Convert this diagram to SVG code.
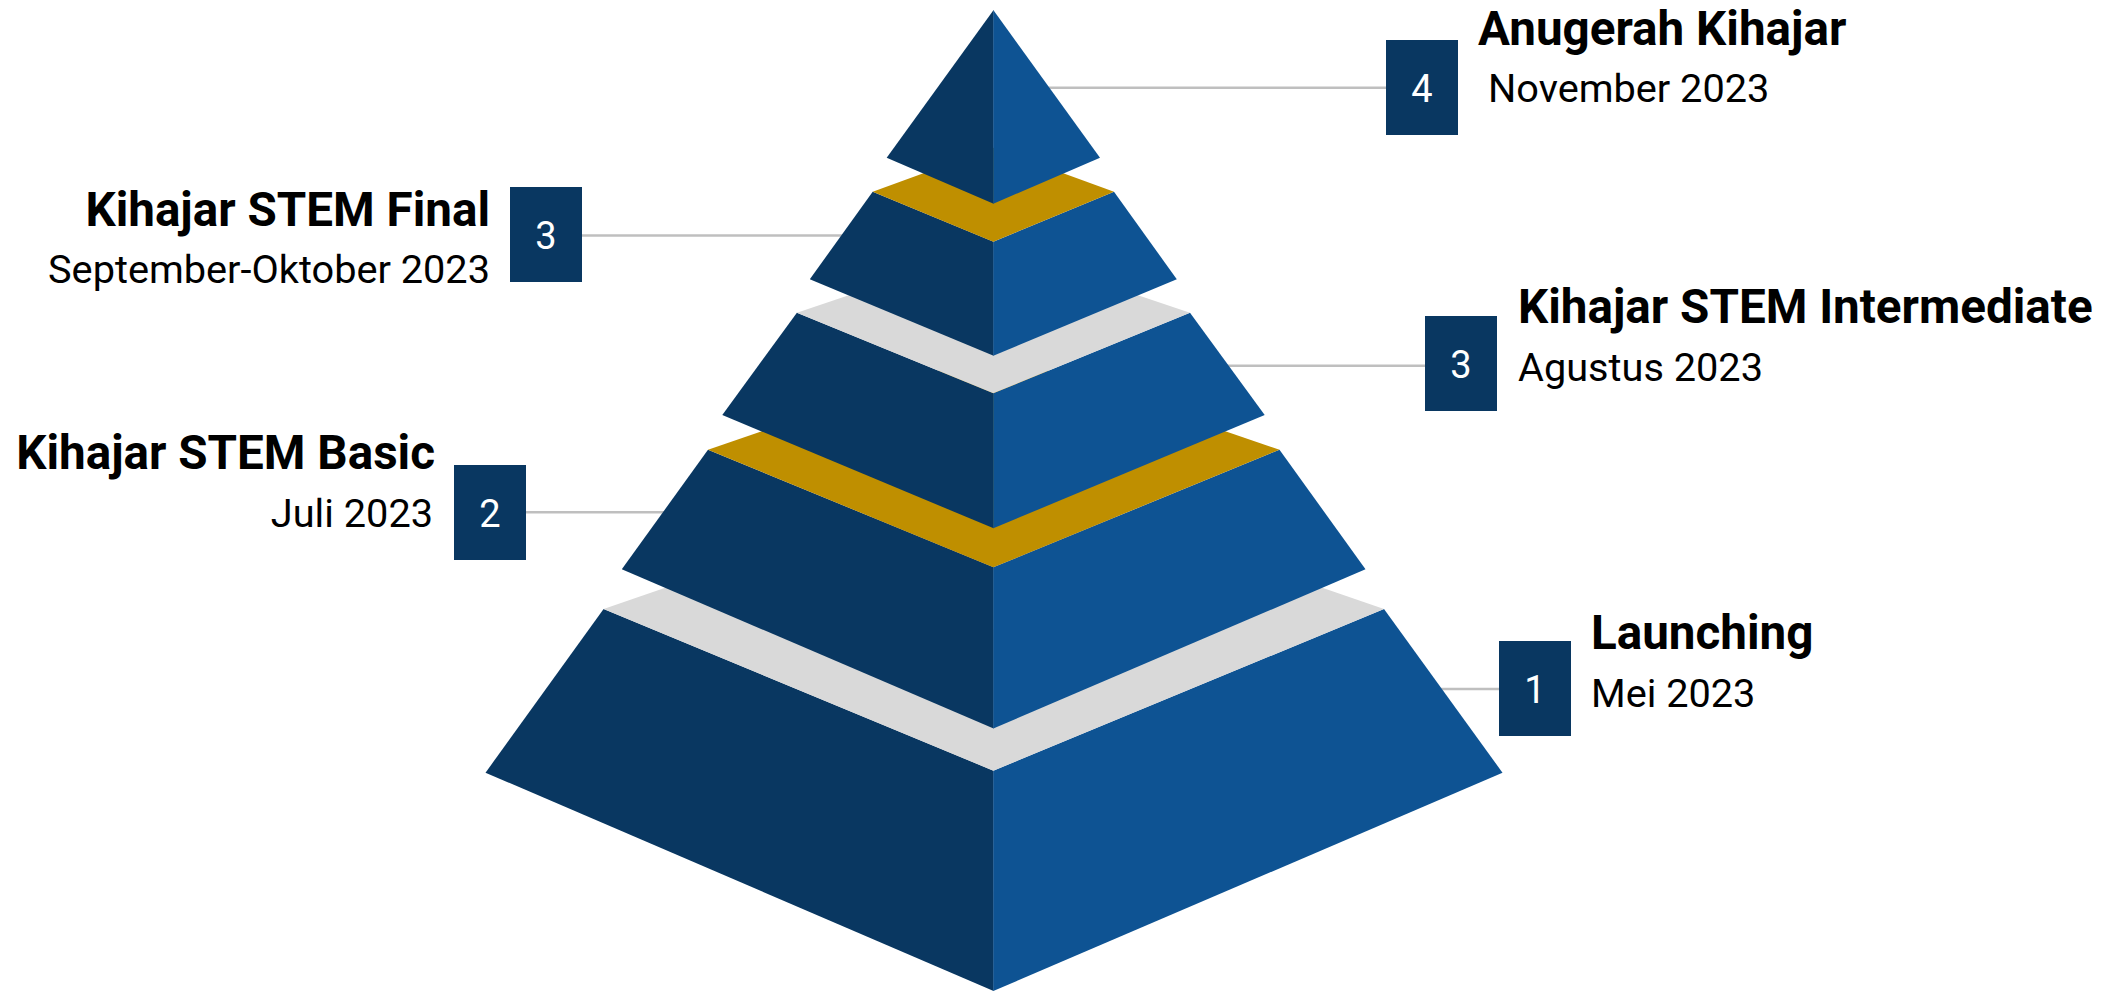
<svg xmlns="http://www.w3.org/2000/svg" width="2119" height="991" viewBox="0 0 2119 991">
<style>
.dk{fill:#093761}
.lt{fill:#0e5393}
.gold{fill:#bf8f00}
.gray{fill:#d9d9d9}
.box{fill:#093761}
.num{font-family:Roboto,"Liberation Sans",sans-serif;font-size:38px;fill:#ffffff;text-anchor:middle}
.ttl{font-family:Roboto,"Liberation Sans",sans-serif;font-size:47.6px;font-weight:700;fill:#000000}
.sub{font-family:Roboto,"Liberation Sans",sans-serif;font-size:39.7px;fill:#000000}
.end{text-anchor:end}
.conn{stroke:#bfbfbf;stroke-width:2.5;fill:none}
</style>
<rect width="2119" height="991" fill="#ffffff"/>
<g id="connectors">
<line class="conn" x1="1000" y1="87.7" x2="1386" y2="87.7"/>
<line class="conn" x1="582" y1="235.5" x2="880" y2="235.5"/>
<line class="conn" x1="1150" y1="365.8" x2="1425" y2="365.8"/>
<line class="conn" x1="526" y1="512.3" x2="700" y2="512.3"/>
<line class="conn" x1="1300" y1="689" x2="1499" y2="689"/>
</g>
<g id="pyramid">
<g id="layer5">
<polygon class="dk" points="603.6,609 993.6,770.7 993.6,991 485.5,772.7"/>
<polygon class="lt" points="993.3,770.7 1384,609 1502.5,772.7 993.3,991"/>
</g>
<polygon id="band-gray2" class="gray" points="603.6,609 993.3,474.6 1384,609 993.3,770.7"/>
<g id="layer4">
<polygon class="dk" points="708,449.7 993.6,567.3 993.6,728.5 621.8,569.3"/>
<polygon class="lt" points="993.3,567.3 1279.5,449.7 1365.5,569.3 993.3,728.5"/>
</g>
<polygon id="band-gold2" class="gold" points="708,449.7 993.3,351.6 1279.5,449.7 993.3,567.3"/>
<g id="layer3">
<polygon class="dk" points="796.9,312.7 993.6,393.3 993.6,528.3 722.3,415"/>
<polygon class="lt" points="993.3,393.3 1190,312.7 1264.7,415 993.3,528.3"/>
</g>
<polygon id="band-gray1" class="gray" points="796.9,312.7 993.3,246.5 1190,312.7 993.3,393.3"/>
<g id="layer2">
<polygon class="dk" points="872.7,191.7 993.6,241.7 993.6,355.7 809.8,279.3"/>
<polygon class="lt" points="993.3,241.7 1114,191.7 1176.8,279.3 993.3,355.7"/>
</g>
<polygon id="band-gold1" class="gold" points="872.7,191.7 993.3,147.8 1114,191.7 993.3,241.7"/>
<g id="layer1">
<polygon class="dk" points="993.6,10 886.7,157.7 993.6,203.7"/>
<polygon class="lt" points="993.3,10 1100,157.7 993.3,203.7"/>
</g>
</g>
<g id="node-4">
<rect class="box" x="1386" y="40" width="72" height="95"/>
<text class="num" x="1422" y="102">4</text>
<text class="ttl" x="1478" y="45">Anugerah Kihajar</text>
<text class="sub" x="1488" y="102">November 2023</text>
</g>
<g id="node-3-final">
<rect class="box" x="510" y="187" width="72" height="95"/>
<text class="num" x="546" y="249">3</text>
<text class="ttl end" x="490" y="226">Kihajar STEM Final</text>
<text class="sub end" x="490" y="283">September-Oktober 2023</text>
</g>
<g id="node-3-intermediate">
<rect class="box" x="1425" y="316" width="72" height="95"/>
<text class="num" x="1461" y="378">3</text>
<text class="ttl" x="1518" y="323">Kihajar STEM Intermediate</text>
<text class="sub" x="1518" y="381">Agustus 2023</text>
</g>
<g id="node-2">
<rect class="box" x="454" y="465" width="72" height="95"/>
<text class="num" x="490" y="527">2</text>
<text class="ttl end" x="435" y="469">Kihajar STEM Basic</text>
<text class="sub end" x="433" y="527">Juli 2023</text>
</g>
<g id="node-1">
<rect class="box" x="1499" y="641" width="72" height="95"/>
<text class="num" x="1535" y="703">1</text>
<text class="ttl" x="1591" y="649">Launching</text>
<text class="sub" x="1591" y="707">Mei 2023</text>
</g>
</svg>
